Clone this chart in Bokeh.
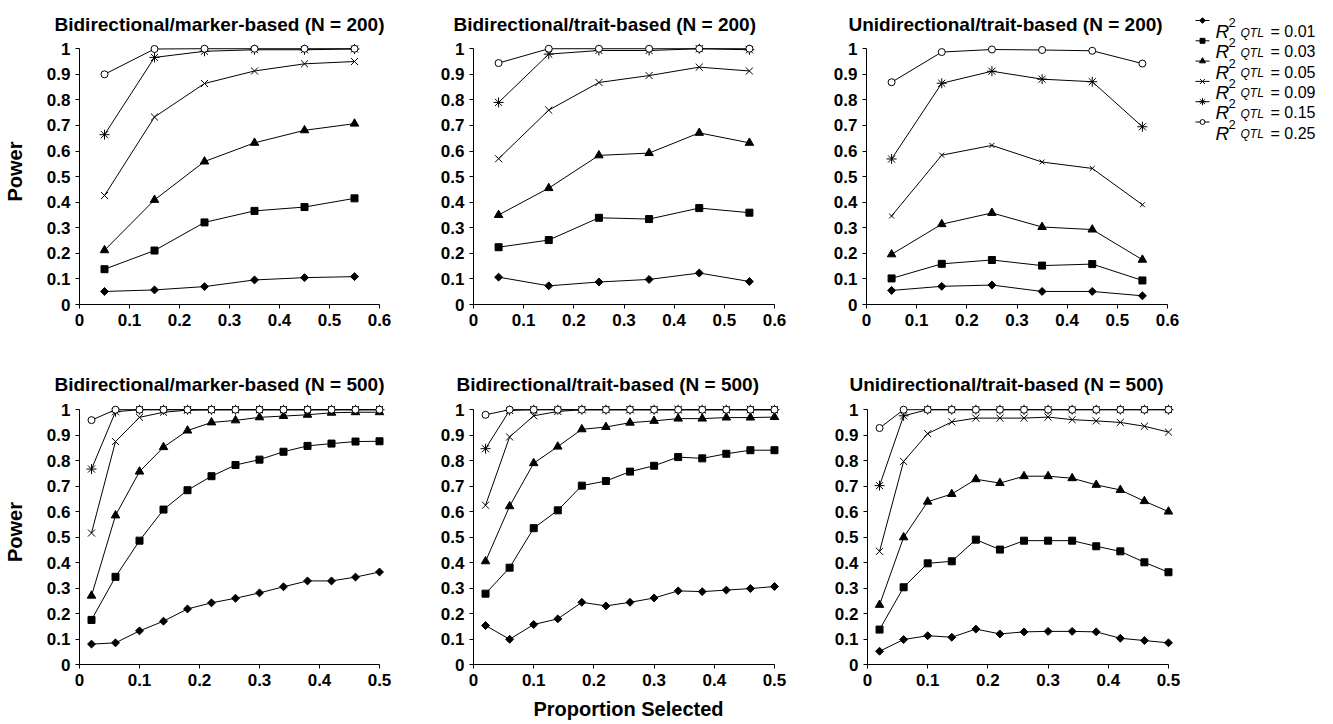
import math
from bokeh.plotting import figure
from bokeh.layouts import row, column
from bokeh.models import Range1d, FixedTicker
from bokeh.embed import file_html
from bokeh.resources import INLINE
from bokeh.core.properties import value

# ---------------- data ----------------
x200 = [0.05, 0.15, 0.25, 0.35, 0.45, 0.55]
x500 = [0.02, 0.06, 0.10, 0.14, 0.18, 0.22, 0.26, 0.30, 0.34, 0.38, 0.42, 0.46, 0.50]

r2_values = ["0.01", "0.03", "0.05", "0.09", "0.15", "0.25"]

y_ticks = [0, 0.1, 0.2, 0.3, 0.4, 0.5, 0.6, 0.7, 0.8, 0.9, 1]
y_tick_labels = ["0", "0.1", "0.2", "0.3", "0.4", "0.5", "0.6", "0.7", "0.8", "0.9", "1"]
x200_ticks = [0, 0.1, 0.2, 0.3, 0.4, 0.5, 0.6]
x200_tick_labels = ["0", "0.1", "0.2", "0.3", "0.4", "0.5", "0.6"]
x500_ticks = [0, 0.1, 0.2, 0.3, 0.4, 0.5]
x500_tick_labels = ["0", "0.1", "0.2", "0.3", "0.4", "0.5"]

titles = [
    "Bidirectional/marker-based (N = 200)",
    "Bidirectional/trait-based (N = 200)",
    "Unidirectional/trait-based (N = 200)",
    "Bidirectional/marker-based (N = 500)",
    "Bidirectional/trait-based (N = 500)",
    "Unidirectional/trait-based (N = 500)",
]

# Bidirectional/marker-based, N = 200
bm200_r01 = [0.051, 0.057, 0.070, 0.096, 0.105, 0.109]
bm200_r03 = [0.138, 0.211, 0.321, 0.366, 0.381, 0.415]
bm200_r05 = [0.212, 0.409, 0.559, 0.632, 0.681, 0.707]
bm200_r09 = [0.426, 0.733, 0.864, 0.913, 0.941, 0.950]
bm200_r15 = [0.664, 0.966, 0.990, 0.996, 0.996, 0.999]
bm200_r25 = [0.900, 0.999, 1.000, 1.000, 1.000, 1.000]

# Bidirectional/trait-based, N = 200
bt200_r01 = [0.107, 0.073, 0.088, 0.098, 0.123, 0.090]
bt200_r03 = [0.224, 0.252, 0.339, 0.334, 0.377, 0.359]
bt200_r05 = [0.350, 0.455, 0.583, 0.592, 0.671, 0.632]
bt200_r09 = [0.570, 0.760, 0.868, 0.895, 0.928, 0.913]
bt200_r15 = [0.790, 0.979, 0.993, 0.993, 1.000, 0.996]
bt200_r25 = [0.944, 1.000, 1.000, 1.000, 1.000, 1.000]

# Unidirectional/trait-based, N = 200
ut200_r01 = [0.055, 0.071, 0.076, 0.051, 0.051, 0.034]
ut200_r03 = [0.102, 0.159, 0.174, 0.152, 0.158, 0.094]
ut200_r05 = [0.196, 0.314, 0.358, 0.303, 0.293, 0.175]
ut200_r09 = [0.346, 0.584, 0.622, 0.557, 0.532, 0.390]
ut200_r15 = [0.569, 0.865, 0.912, 0.881, 0.871, 0.695]
ut200_r25 = [0.869, 0.987, 0.997, 0.995, 0.992, 0.942]

# Bidirectional/marker-based, N = 500
bm500_r01 = [0.080, 0.085, 0.132, 0.170, 0.218, 0.242, 0.260, 0.281, 0.305, 0.328, 0.328, 0.343, 0.363]
bm500_r03 = [0.175, 0.344, 0.486, 0.608, 0.684, 0.739, 0.783, 0.804, 0.835, 0.858, 0.867, 0.875, 0.876]
bm500_r05 = [0.270, 0.585, 0.757, 0.853, 0.918, 0.950, 0.958, 0.970, 0.975, 0.980, 0.988, 0.990, 0.990]
bm500_r09 = [0.516, 0.875, 0.970, 0.990, 0.998, 1.000, 1.000, 1.000, 1.000, 1.000, 1.000, 1.000, 1.000]
bm500_r15 = [0.767, 0.992, 1.000, 1.000, 1.000, 1.000, 1.000, 1.000, 1.000, 1.000, 1.000, 1.000, 1.000]
bm500_r25 = [0.959, 1.000, 1.000, 1.000, 1.000, 1.000, 1.000, 1.000, 1.000, 1.000, 1.000, 1.000, 1.000]

# Bidirectional/trait-based, N = 500
bt500_r01 = [0.153, 0.099, 0.157, 0.179, 0.244, 0.230, 0.244, 0.261, 0.289, 0.286, 0.292, 0.298, 0.306]
bt500_r03 = [0.278, 0.380, 0.535, 0.605, 0.702, 0.720, 0.757, 0.780, 0.814, 0.809, 0.827, 0.841, 0.841]
bt500_r05 = [0.405, 0.621, 0.790, 0.855, 0.923, 0.932, 0.949, 0.956, 0.965, 0.965, 0.969, 0.969, 0.971]
bt500_r09 = [0.625, 0.893, 0.976, 0.993, 1.000, 1.000, 1.000, 1.000, 1.000, 1.000, 1.000, 1.000, 1.000]
bt500_r15 = [0.847, 0.997, 1.000, 1.000, 1.000, 1.000, 1.000, 1.000, 1.000, 1.000, 1.000, 1.000, 1.000]
bt500_r25 = [0.980, 1.000, 1.000, 1.000, 1.000, 1.000, 1.000, 1.000, 1.000, 1.000, 1.000, 1.000, 1.000]

# Unidirectional/trait-based, N = 500
ut500_r01 = [0.052, 0.098, 0.113, 0.107, 0.139, 0.120, 0.128, 0.130, 0.130, 0.128, 0.103, 0.094, 0.085]
ut500_r03 = [0.137, 0.303, 0.397, 0.405, 0.490, 0.451, 0.486, 0.486, 0.486, 0.464, 0.444, 0.401, 0.362]
ut500_r05 = [0.234, 0.499, 0.639, 0.669, 0.727, 0.712, 0.739, 0.739, 0.731, 0.705, 0.685, 0.641, 0.600]
ut500_r09 = [0.444, 0.797, 0.906, 0.952, 0.967, 0.967, 0.967, 0.971, 0.961, 0.956, 0.950, 0.935, 0.912]
ut500_r15 = [0.702, 0.976, 1.000, 1.000, 1.000, 1.000, 1.000, 1.000, 1.000, 1.000, 1.000, 1.000, 1.000]
ut500_r25 = [0.928, 1.000, 1.000, 1.000, 1.000, 1.000, 1.000, 1.000, 1.000, 1.000, 1.000, 1.000, 1.000]

# ---------------- style ----------------
FONT = "Liberation Sans"
INK = "#000000"
Y_END = 1.04

marker_styles = [
    dict(marker="square", size=5.6, angle=math.pi / 4, fill_color=INK),   # diamond
    dict(marker="square", size=7, angle=0.0, fill_color=INK),
    dict(marker="triangle", size=8.5, angle=0.0, fill_color=INK),
    dict(marker="x", size=10, angle=0.0, fill_color=INK),
    dict(marker="asterisk", size=10, angle=0.0, fill_color=INK),
    dict(marker="circle", size=7, angle=0.0, fill_color="white"),
]


def style_axis(ax, ticks, labels, bounds):
    ax.ticker = FixedTicker(ticks=ticks)
    ax.major_label_overrides = {t: l for t, l in zip(ticks, labels)}
    ax.bounds = bounds
    ax.major_label_text_font = FONT
    ax.major_label_text_font_size = "17px"
    ax.major_label_text_font_style = "bold"
    ax.major_label_text_color = INK
    ax.axis_line_color = INK
    ax.axis_line_width = 1
    ax.major_tick_line_color = INK
    ax.major_tick_out = 4
    ax.major_tick_in = 0
    ax.minor_tick_line_color = None
    ax.major_label_standoff = 5
    ax.axis_label_text_font = FONT
    ax.axis_label_text_font_size = "20px"
    ax.axis_label_text_font_style = "bold"
    ax.axis_label_text_color = INK


def panel(title, xs, series, x_end, x_ticks, x_labels, width, height, borders,
          title_offset, title_standoff, ylabel=None, xlabel=None, size_scale=None):
    left, right, top, bottom = borders
    p = figure(width=width, height=height,
               x_range=Range1d(0, x_end), y_range=Range1d(0, Y_END),
               output_backend="svg", toolbar_location=None,
               min_border_left=left, min_border_right=right,
               min_border_top=top, min_border_bottom=bottom,
               title=title, background_fill_color="white",
               border_fill_color="white")
    p.outline_line_color = None
    p.xgrid.visible = False
    p.ygrid.visible = False
    p.title.text_font = FONT
    p.title.text_font_size = "19px"
    p.title.text_font_style = "bold"
    p.title.text_color = INK
    p.title.align = "left"
    p.title.offset = title_offset
    p.title.standoff = title_standoff
    style_axis(p.xaxis[0], x_ticks, x_labels, (0, x_ticks[-1]))
    style_axis(p.yaxis[0], y_ticks, y_tick_labels, (0, 1))
    if ylabel:
        p.yaxis[0].axis_label = ylabel
        p.yaxis[0].axis_label_standoff = 18
    if xlabel:
        p.xaxis[0].axis_label = xlabel
        p.xaxis[0].axis_label_standoff = 9
    for ys in series:
        p.line(xs, ys, line_color=INK, line_width=1)
    for i, ys in enumerate(series):
        st = dict(marker_styles[i])
        if size_scale and i in size_scale:
            st["size"] = st["size"] * size_scale[i]
        p.scatter(xs, ys, marker=st["marker"], size=st["size"], angle=st["angle"],
                  fill_color=st["fill_color"], line_color=INK, line_width=1)
    return p


S200_X_END = 0.6
S500_X_END = 0.515
ROW1_H = 350
ROW2_H = 374

f1 = panel(titles[0], x200, [bm200_r01, bm200_r03, bm200_r05, bm200_r09, bm200_r15, bm200_r25],
           S200_X_END, x200_ticks, x200_tick_labels, 430, ROW1_H, (78, 51, 38, 46), -25, 8,
           ylabel="Power")
f2 = panel(titles[1], x200, [bt200_r01, bt200_r03, bt200_r05, bt200_r09, bt200_r15, bt200_r25],
           S200_X_END, x200_ticks, x200_tick_labels, 396, ROW1_H, (43, 52, 38, 46), -20, 8)
f3 = panel(titles[2], x200, [ut200_r01, ut200_r03, ut200_r05, ut200_r09, ut200_r15, ut200_r25],
           S200_X_END, x200_ticks, x200_tick_labels, 361, ROW1_H, (40, 20, 38, 46), -18, 8,
           size_scale={3: 0.7})
f4 = panel(titles[3], x500, [bm500_r01, bm500_r03, bm500_r05, bm500_r09, bm500_r15, bm500_r25],
           S500_X_END, x500_ticks, x500_tick_labels, 430, ROW2_H, (78, 42, 49, 60), -25, 10,
           ylabel="Power")
f5 = panel(titles[4], x500, [bt500_r01, bt500_r03, bt500_r05, bt500_r09, bt500_r15, bt500_r25],
           S500_X_END, x500_ticks, x500_tick_labels, 396, ROW2_H, (43, 43, 49, 60), -17, 10,
           xlabel="Proportion Selected")
f6 = panel(titles[5], x500, [ut500_r01, ut500_r03, ut500_r05, ut500_r09, ut500_r15, ut500_r25],
           S500_X_END, x500_ticks, x500_tick_labels, 361, ROW2_H, (41, 10, 49, 60), -18, 10)

# ---------------- legend (custom, in its own small figure) ----------------
LG_W, LG_H = 146, ROW1_H
lg = figure(frame_width=LG_W, frame_height=LG_H, x_range=Range1d(0, LG_W), y_range=Range1d(LG_H, 0),
            output_backend="svg", toolbar_location=None, title=None,
            min_border_left=0, min_border_right=0, min_border_top=0, min_border_bottom=0,
            x_axis_type=None, y_axis_type=None)
lg.outline_line_color = None

LEG_TOP = 31.0
LEG_STEP = 20.3
legend_marker_scale = 0.7
for i, lab in enumerate(r2_values):
    yb = LEG_TOP + LEG_STEP * i
    ym = yb - 11
    lg.segment(x0=[8], y0=[ym], x1=[22], y1=[ym], line_color=INK, line_width=1)
    st = marker_styles[i]
    lg.scatter([15], [ym], marker=st["marker"], size=st["size"] * legend_marker_scale,
               angle=st["angle"], fill_color=st["fill_color"], line_color=INK, line_width=1)
    lg.text([28], [yb], text=["R"], text_font=value(FONT), text_font_style="italic",
            text_font_size="19px", text_baseline="alphabetic", text_align="left", text_color=INK)
    lg.text([41], [yb - 9], text=["2"], text_font=value(FONT),
            text_font_size="13px", text_baseline="alphabetic", text_align="left", text_color=INK)
    lg.text([53], [yb + 1], text=["QTL"], text_font=value(FONT), text_font_style="italic",
            text_font_size="12px", text_baseline="alphabetic", text_align="left", text_color=INK)
    lg.text([83], [yb], text=["= " + lab], text_font=value(FONT),
            text_font_size="16px", text_baseline="alphabetic", text_align="left", text_color=INK)

layout = row(column(row(f1, f2, f3), row(f4, f5, f6)), lg)

open("out.html", "w").write(file_html(layout, INLINE))
